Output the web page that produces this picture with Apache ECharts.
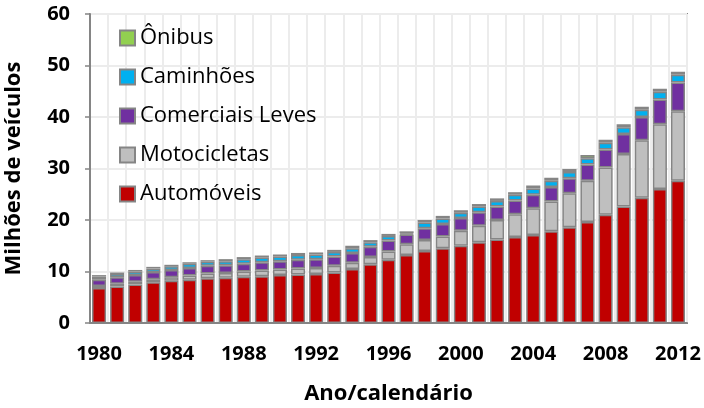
<!DOCTYPE html>
<html>
<head>
<meta charset="utf-8">
<script src="https://cdn.jsdelivr.net/npm/echarts@6/dist/echarts.min.js"></script>
<style>
  html, body { margin: 0; padding: 0; background: #fff; }
  #chart { width: 704px; height: 408px; }
</style>
</head>
<body>
<div id="chart"></div>
<script>
const years = [];
for (let y = 1980; y <= 2012; y++) years.push(String(y));

// milhões de veículos
const automoveis = [6.8, 7.1, 7.5, 7.9, 8.2, 8.4, 8.7, 8.8, 9.0, 9.1, 9.3, 9.4, 9.5, 9.8, 10.5, 11.4, 12.3, 13.2, 14.0, 14.5, 15.0, 15.7, 16.2, 16.7, 17.1, 17.8, 18.6, 19.6, 21.0, 22.6, 24.3, 26.0, 27.6];
const motocicletas = [0.4, 0.5, 0.5, 0.6, 0.7, 0.8, 0.9, 0.9, 1.0, 1.1, 1.1, 1.2, 1.2, 1.3, 1.2, 1.4, 1.6, 2.1, 2.1, 2.3, 2.9, 3.2, 3.8, 4.4, 5.2, 5.8, 6.6, 8.0, 9.2, 10.2, 11.2, 12.6, 13.5];
const comerciais = [1.2, 1.3, 1.3, 1.4, 1.4, 1.5, 1.5, 1.5, 1.5, 1.6, 1.6, 1.7, 1.7, 1.8, 1.9, 2.0, 2.1, 1.9, 2.3, 2.4, 2.5, 2.6, 2.6, 2.7, 2.6, 2.8, 2.9, 3.2, 3.5, 3.9, 4.5, 4.8, 5.6];
const caminhoes = [0.6, 0.6, 0.7, 0.7, 0.7, 0.8, 0.8, 0.8, 0.9, 0.9, 0.9, 0.9, 0.9, 0.9, 0.9, 0.9, 0.9, 0.2, 1.1, 1.1, 1.0, 1.1, 1.1, 1.1, 1.2, 1.2, 1.2, 1.2, 1.3, 1.3, 1.4, 1.5, 1.5];
const onibus = [0.3, 0.3, 0.3, 0.3, 0.3, 0.3, 0.3, 0.4, 0.4, 0.4, 0.4, 0.4, 0.4, 0.4, 0.5, 0.4, 0.4, 0.4, 0.5, 0.5, 0.5, 0.5, 0.5, 0.5, 0.6, 0.6, 0.6, 0.6, 0.6, 0.6, 0.6, 0.6, 0.6];

const font = "'Open Sans', Lato, sans-serif";
const edge = '#858585';

const chart = echarts.init(document.getElementById('chart'));

function serie(name, data, color) {
  return {
    name: name,
    type: 'bar',
    stack: 'frota',
    data: data,
    barCategoryGap: '22%',
    itemStyle: { color: color, borderColor: edge, borderWidth: 1.5 },
    animation: false
  };
}

chart.setOption({
  backgroundColor: '#fff',
  textStyle: { fontFamily: font },
  grid: {
    left: 90, right: 17, top: 14, bottom: 85,
    outerBoundsMode: 'none',
    show: true, borderColor: edge, borderWidth: 2, backgroundColor: 'transparent'
  },
  legend: {
    left: 114, top: 21,
    orient: 'vertical',
    itemWidth: 15, itemHeight: 15, itemGap: 15,
    icon: 'rect',
    data: ['Ônibus', 'Caminhões', 'Comerciais Leves', 'Motocicletas', 'Automóveis'],
    textStyle: { fontFamily: font, fontSize: 22, color: '#000', lineHeight: 24 }
  },
  xAxis: {
    type: 'category',
    data: years,
    boundaryGap: true,
    name: 'Ano/calendário',
    nameLocation: 'middle',
    nameGap: 60,
    nameTextStyle: { fontFamily: font, fontSize: 22, fontWeight: 'bold', color: '#000' },
    axisLine: { lineStyle: { color: edge, width: 2 } },
    axisTick: { interval: 0, length: 5, lineStyle: { color: edge, width: 1.5 } },
    axisLabel: { interval: 3, margin: 21, fontFamily: font, fontSize: 20, fontWeight: 'bold', color: '#000' },
    splitLine: { show: true, interval: 0, lineStyle: { color: '#ececec', width: 2 } }
  },
  yAxis: {
    type: 'value',
    min: 0, max: 60, interval: 10,
    name: 'Milhões de veículos',
    nameLocation: 'middle',
    nameGap: 65,
    nameTextStyle: { fontFamily: font, fontSize: 22, fontWeight: 'bold', color: '#000' },
    axisLine: { show: true, lineStyle: { color: edge, width: 2 } },
    axisTick: { show: true, length: 5, lineStyle: { color: edge, width: 1.5 } },
    axisLabel: { margin: 20, fontFamily: font, fontSize: 20, fontWeight: 'bold', color: '#000' },
    splitLine: { show: true, lineStyle: { color: '#ececec', width: 2 } }
  },
  series: [
    serie('Automóveis', automoveis, '#c00000'),
    serie('Motocicletas', motocicletas, '#bfbfbf'),
    serie('Comerciais Leves', comerciais, '#7030a0'),
    serie('Caminhões', caminhoes, '#00b0f0'),
    serie('Ônibus', onibus, '#92d050')
  ]
});

window.addEventListener('resize', () => chart.resize());
</script>
</body>
</html>
